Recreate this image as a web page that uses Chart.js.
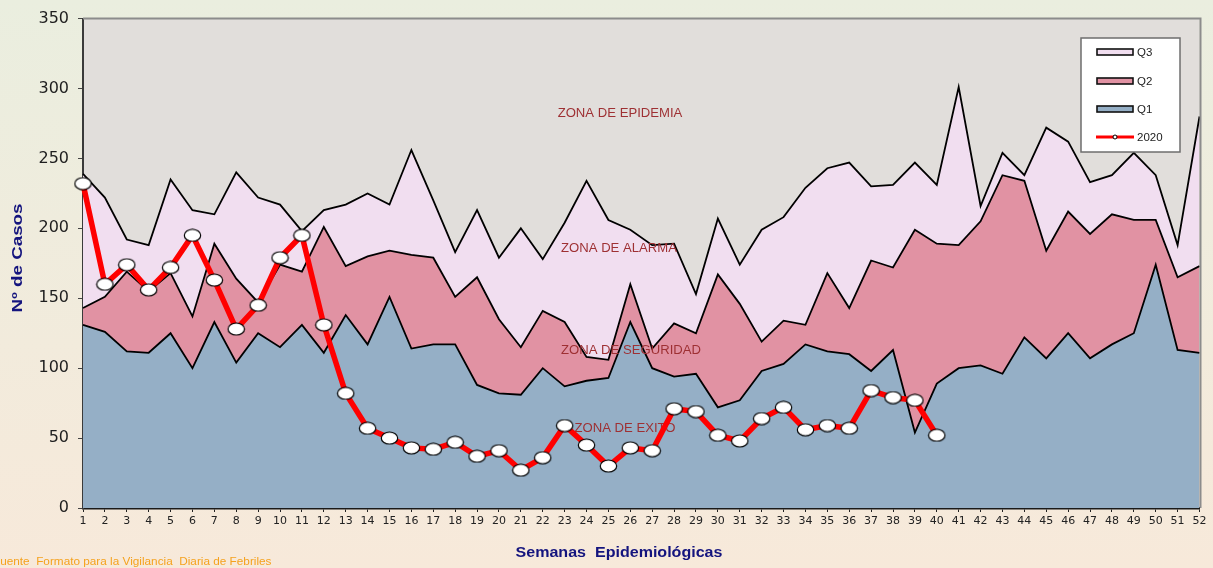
<!DOCTYPE html>
<html>
<head>
<meta charset="utf-8">
<script src="https://cdn.jsdelivr.net/npm/chart.js@4.4.1/dist/chart.umd.min.js"></script>
<style>
    html, body { margin: 0; padding: 0; overflow: hidden; }
    #wrap { width: 1213px; height: 568px; }
</style>
</head>
<body>
<div id="wrap"><canvas id="canalChart" width="1213" height="568"></canvas></div>
<script>
const weeks = [1, 2, 3, 4, 5, 6, 7, 8, 9, 10, 11, 12, 13, 14, 15, 16, 17, 18, 19, 20, 21, 22, 23, 24, 25, 26,
    27, 28, 29, 30, 31, 32, 33, 34, 35, 36, 37, 38, 39, 40, 41, 42, 43, 44, 45, 46, 47, 48, 49, 50, 51, 52];
const q1 = [131, 126, 112, 111, 125, 100, 133, 104, 125, 115, 131, 111, 138, 117, 151, 114, 117, 117, 88, 82, 81, 100, 87, 91, 93, 133,
    100, 94, 96, 72, 77, 98, 103, 117, 112, 110, 98, 113, 54, 89, 100, 102, 96, 122, 107, 125, 107, 117, 125, 174, 113, 111];
const q2 = [143, 151, 169, 155, 168, 137, 189, 164, 147, 174, 169, 201, 173, 180, 184, 181, 179, 151, 165, 135, 115, 141, 133, 108, 106, 160,
    114, 132, 125, 167, 146, 119, 134, 131, 168, 143, 177, 172, 199, 189, 188, 205, 238, 234, 184, 212, 196, 210, 206, 206, 165, 173];
const q3 = [239, 222, 192, 188, 235, 213, 210, 240, 222, 217, 198, 213, 217, 225, 217, 256, 220, 183, 213, 179, 200, 178, 204, 234, 206, 199,
    188, 189, 153, 207, 174, 199, 208, 229, 243, 247, 230, 231, 247, 231, 301, 216, 254, 238, 272, 262, 233, 238, 254, 238, 188, 280];
const cases2020 = [232, 160, 174, 156, 172, 195, 163, 128, 145, 179, 195, 131, 82, 57, 50, 43, 42, 47, 37, 41, 27, 36, 59, 45, 30, 43,
    41, 71, 69, 52, 48, 64, 72, 56, 59, 57, 84, 79, 77, 52, null, null, null, null, null, null, null, null, null, null, null, null];
const yTicks = [0, 50, 100, 150, 200, 250, 300, 350];
const zones = [
    { text: 'ZONA DE EPIDEMIA', x: 620, y: 114 },
    { text: 'ZONA DE ALARMA', x: 619, y: 249 },
    { text: 'ZONA DE SEGURIDAD', x: 631, y: 351 },
    { text: 'ZONA DE EXITO', x: 625, y: 429 }
];

const C_Q1 = '#95afc6';
const C_Q2 = '#e192a3';
const C_Q3 = '#f1def0';
const C_RED = '#ff0000';

// white oval marker
const marker = document.createElement('canvas');
marker.width = 19;
marker.height = 14;
{
    const m = marker.getContext('2d');
    m.beginPath();
    m.ellipse(9.5, 7, 8.2, 6, 0, 0, Math.PI * 2);
    m.fillStyle = '#ffffff';
    m.fill();
    m.lineWidth = 1.2;
    m.strokeStyle = '#000000';
    m.stroke();
}

function stretchText(ctx, text, x, y, sx) {
    ctx.save();
    ctx.translate(x, y);
    ctx.scale(sx, 1);
    ctx.fillText(text, 0, 0);
    ctx.restore();
}

const decor = {
    id: 'decor',
    beforeDraw(chart) {
        const { ctx, chartArea: a, width, height } = chart;
        ctx.save();
        const g = ctx.createLinearGradient(0, 0, 0, height);
        g.addColorStop(0, '#eaeedf');
        g.addColorStop(1, '#f7e9da');
        ctx.fillStyle = g;
        ctx.fillRect(0, 0, width, height);
        ctx.fillStyle = '#e1dedb';
        ctx.fillRect(a.left, a.top, a.right - a.left, a.bottom - a.top);
        ctx.restore();
    },
    afterDatasetDraw(chart, args) {
        if (args.index !== 0) return;
        const ctx = chart.ctx;
        ctx.save();
        ctx.fillStyle = '#9e3033';
        ctx.font = '12.5px "Liberation Sans", Arial, sans-serif';
        ctx.textAlign = 'center';
        ctx.textBaseline = 'middle';
        zones.forEach(z => stretchText(ctx, z.text, z.x, z.y, 1.05));
        ctx.restore();
    },
    afterDraw(chart) {
        const { ctx, chartArea: a } = chart;
        ctx.save();
        // frame top / right
        ctx.strokeStyle = '#8c8c8c';
        ctx.lineWidth = 2;
        ctx.beginPath();
        ctx.moveTo(a.left, a.top);
        ctx.lineTo(a.right + 1, a.top);
        ctx.lineTo(a.right + 1, a.bottom);
        ctx.stroke();

        // legend
        const lx = 1081, ly = 38, lw = 99, lh = 114;
        ctx.fillStyle = '#ffffff';
        ctx.fillRect(lx, ly, lw, lh);
        ctx.strokeStyle = '#6e6e6e';
        ctx.lineWidth = 1.5;
        ctx.strokeRect(lx, ly, lw, lh);
        const items = [
            { label: 'Q3', color: C_Q3, y: 52 },
            { label: 'Q2', color: C_Q2, y: 81 },
            { label: 'Q1', color: C_Q1, y: 109 }
        ];
        ctx.font = '11.5px "Liberation Sans", Arial, sans-serif';
        ctx.textBaseline = 'middle';
        items.forEach(it => {
            ctx.fillStyle = it.color;
            ctx.fillRect(1097, it.y - 3, 36, 6);
            ctx.strokeStyle = '#111';
            ctx.lineWidth = 1.6;
            ctx.strokeRect(1097, it.y - 3, 36, 6);
            ctx.fillStyle = '#222';
            ctx.fillText(it.label, 1137, it.y + 1);
        });
        ctx.strokeStyle = C_RED;
        ctx.lineWidth = 3;
        ctx.beginPath();
        ctx.moveTo(1096, 137);
        ctx.lineTo(1134, 137);
        ctx.stroke();
        ctx.beginPath();
        ctx.arc(1115, 137, 2, 0, Math.PI * 2);
        ctx.fillStyle = '#fff';
        ctx.fill();
        ctx.lineWidth = 1;
        ctx.strokeStyle = '#000';
        ctx.stroke();
        ctx.fillStyle = '#222';
        ctx.fillText('2020', 1137, 138);

        // axis titles
        ctx.fillStyle = '#14147e';
        ctx.font = 'bold 15px "Liberation Sans", Arial, sans-serif';
        ctx.textAlign = 'center';
        ctx.textBaseline = 'middle';
        stretchText(ctx, 'Semanas  Epidemiológicas', 619, 553, 1.07);
        ctx.save();
        ctx.translate(18, 258);
        ctx.rotate(-Math.PI / 2);
        stretchText(ctx, 'Nº de Casos', 0, 0, 1.25);
        ctx.restore();

        // source
        ctx.fillStyle = '#f5a21e';
        ctx.font = '11px "Liberation Sans", Arial, sans-serif';
        ctx.textAlign = 'left';
        stretchText(ctx, 'Fuente  Formato para la Vigilancia  Diaria de Febriles', -7, 562, 1.07);
        ctx.restore();
    }
};

const ctx = document.getElementById('canalChart').getContext('2d');
const canalChart = new Chart(ctx, {
    type: 'line',
    data: {
        labels: weeks,
        datasets: [
            {
                label: 'Q1',
                data: q1,
                fill: 'origin',
                backgroundColor: C_Q1,
                borderColor: '#000',
                borderWidth: 1.8,
                pointRadius: 0,
                order: 1
            },
            {
                label: 'Q2',
                data: q2,
                fill: 0,
                backgroundColor: C_Q2,
                borderColor: '#000',
                borderWidth: 1.8,
                pointRadius: 0,
                order: 2
            },
            {
                label: 'Q3',
                data: q3,
                fill: 1,
                backgroundColor: C_Q3,
                borderColor: '#000',
                borderWidth: 1.8,
                pointRadius: 0,
                order: 3
            },
            {
                label: '2020',
                data: cases2020,
                fill: false,
                borderColor: C_RED,
                borderWidth: 5.5,
                pointStyle: marker,
                pointRadius: 8,
                spanGaps: false,
                order: 0
            }
        ]
    },
    options: {
        responsive: false,
        devicePixelRatio: 1,
        animation: false,
        events: [],
        layout: { padding: { left: 0, right: 11, top: 16, bottom: 0 } },
        elements: { line: { tension: 0, borderJoinStyle: 'miter' } },
        scales: {
            x: {
                offset: false,
                afterFit: (s) => { s.height = 60; },
                grid: { display: true, drawOnChartArea: false, drawTicks: true, tickLength: 4, color: '#222' },
                border: { display: true, color: '#1a1a1a', width: 2.5 },
                ticks: {
                    autoSkip: false,
                    maxRotation: 0,
                    padding: 3,
                    color: '#222',
                    font: { family: '"DejaVu Sans", sans-serif', size: 11 }
                }
            },
            y: {
                min: yTicks[0],
                max: yTicks[yTicks.length - 1],
                afterFit: (s) => { s.width = 83; },
                afterBuildTicks: (s) => { s.ticks = yTicks.map(v => ({ value: v })); },
                grid: { display: true, drawOnChartArea: false, drawTicks: true, tickLength: 5, color: '#444' },
                border: { display: true, color: '#3a3a3a', width: 2 },
                ticks: {
                    padding: 9,
                    color: '#1e1e1e',
                    font: { family: '"DejaVu Sans", sans-serif', size: 16 }
                }
            }
        },
        plugins: {
            legend: { display: false },
            tooltip: { enabled: false },
            filler: { propagate: false }
        }
    },
    plugins: [decor]
});
</script>
</body>
</html>
